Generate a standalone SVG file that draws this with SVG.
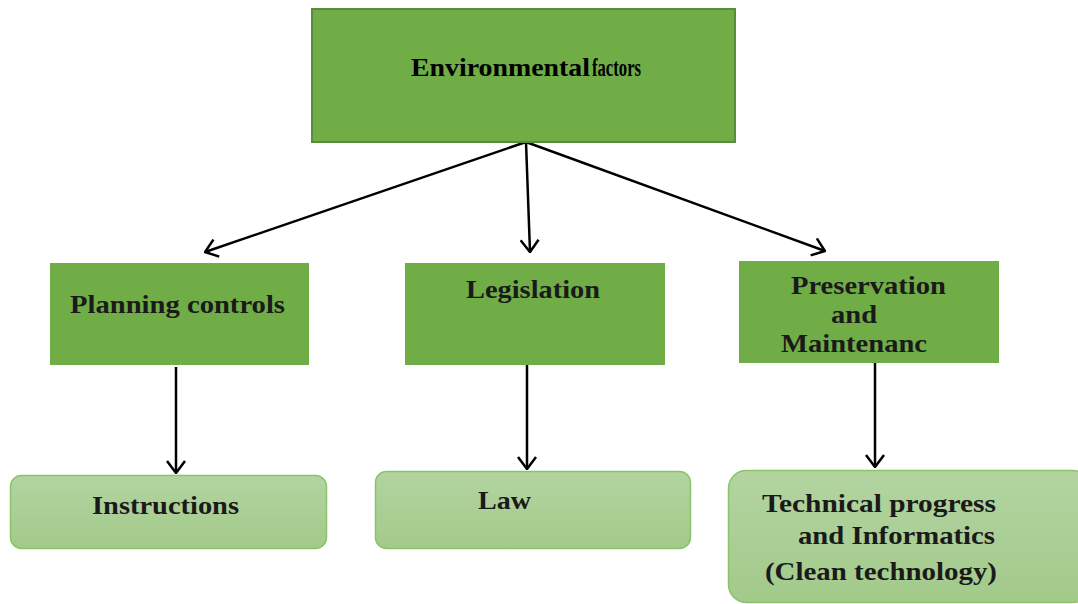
<svg xmlns="http://www.w3.org/2000/svg" width="1078" height="604" viewBox="0 0 1078 604">
<style>
.main{fill:#70ad47}
.top{stroke:#5b8c3a;stroke-width:2}
.sub{fill:url(#lg);stroke:#8cc26c;stroke-width:1.5}
.t{font-family:"Liberation Serif","Times New Roman",serif;font-weight:bold;font-size:26px;fill:#1a1a1a}
.c{fill:none;stroke:#000;stroke-width:2.5}
</style>
<defs>
<linearGradient id="lg" x1="0" y1="0" x2="0" y2="1">
<stop offset="0" stop-color="#b3d4a1"/>
<stop offset="1" stop-color="#a2ca8a"/>
</linearGradient>
<marker id="ah" viewBox="0 0 14 20" refX="13" refY="10" markerWidth="14" markerHeight="20" markerUnits="userSpaceOnUse" orient="auto">
<path d="M1,1 L13,10 L1,19" fill="none" stroke="#000" stroke-width="2.5"/>
</marker>
</defs>
<g id="connectors">
<line class="c" x1="526" y1="142" x2="205" y2="252" marker-end="url(#ah)"/>
<line class="c" x1="526" y1="142" x2="530" y2="252" marker-end="url(#ah)"/>
<line class="c" x1="526" y1="142" x2="825" y2="251" marker-end="url(#ah)"/>
<line class="c" x1="176" y1="367" x2="176" y2="473" marker-end="url(#ah)"/>
<line class="c" x1="527" y1="364" x2="527" y2="469" marker-end="url(#ah)"/>
<line class="c" x1="875" y1="362" x2="875" y2="467" marker-end="url(#ah)"/>
</g>
<g id="env">
<rect class="main top" x="312" y="9" width="423" height="133"/>
<text class="t" x="411" y="76" style="fill:#000"><tspan textLength="179" lengthAdjust="spacingAndGlyphs">Environmental</tspan><tspan x="592" textLength="49" lengthAdjust="spacingAndGlyphs">factors</tspan></text>
</g>
<g id="planning">
<rect class="main" x="50" y="263" width="259" height="102"/>
<text class="t" x="70" y="313" textLength="215" lengthAdjust="spacingAndGlyphs">Planning controls</text>
</g>
<g id="legislation">
<rect class="main" x="405" y="263" width="260" height="102"/>
<text class="t" x="466" y="298" textLength="134" lengthAdjust="spacingAndGlyphs">Legislation</text>
</g>
<g id="preservation">
<rect class="main" x="739" y="261" width="260" height="102"/>
<text class="t" x="791" y="294" textLength="155" lengthAdjust="spacingAndGlyphs">Preservation</text>
<text class="t" x="831" y="323" textLength="46" lengthAdjust="spacingAndGlyphs">and</text>
<text class="t" x="781" y="352" textLength="146" lengthAdjust="spacingAndGlyphs">Maintenanc</text>
</g>
<g id="instructions">
<rect class="sub" x="10.5" y="475.5" width="316" height="73" rx="11"/>
<text class="t" x="92" y="514" textLength="147" lengthAdjust="spacingAndGlyphs">Instructions</text>
</g>
<g id="law">
<rect class="sub" x="375.5" y="471.5" width="315" height="77" rx="11"/>
<text class="t" x="478" y="509" textLength="53" lengthAdjust="spacingAndGlyphs">Law</text>
</g>
<g id="technical">
<rect class="sub" x="728.5" y="470.5" width="362" height="132" rx="18"/>
<text class="t" x="762" y="512" textLength="234" lengthAdjust="spacingAndGlyphs">Technical progress</text>
<text class="t" x="798" y="544" textLength="197" lengthAdjust="spacingAndGlyphs">and Informatics</text>
<text class="t" x="765" y="580" textLength="232" lengthAdjust="spacingAndGlyphs">(Clean technology)</text>
</g>
</svg>
